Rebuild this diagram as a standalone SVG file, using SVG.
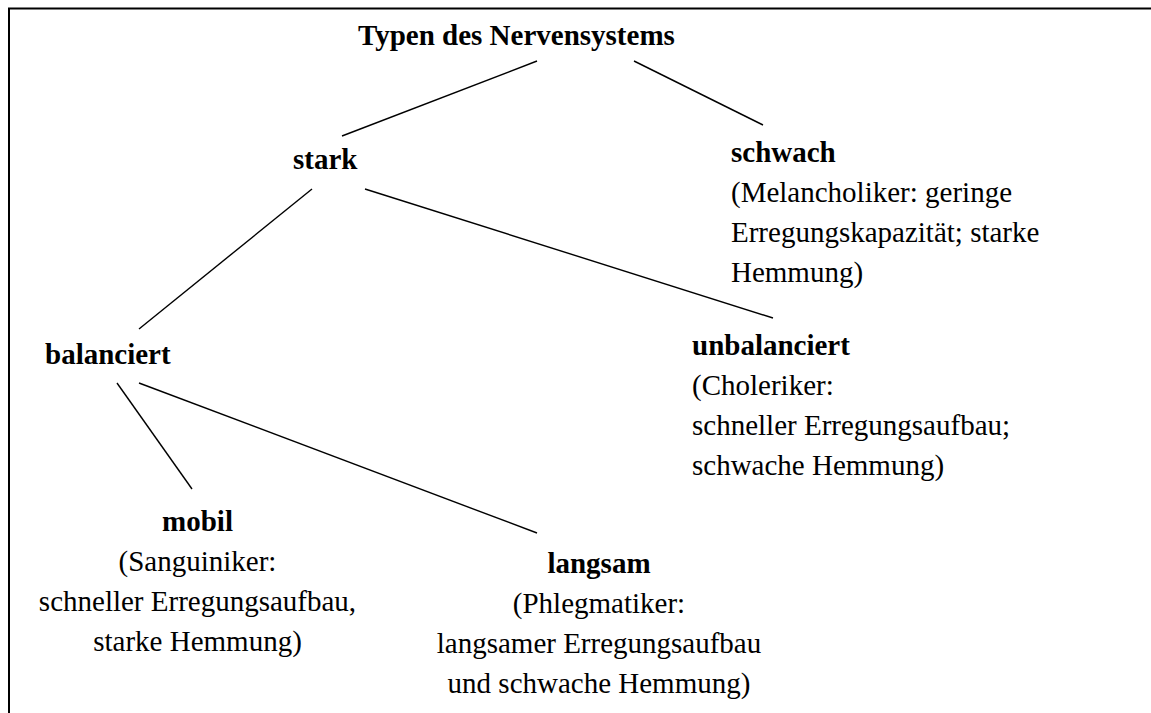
<svg xmlns="http://www.w3.org/2000/svg" width="1151" height="713" viewBox="0 0 1151 713">
  <style>
    text { font-family: "Liberation Serif", "Times New Roman", serif; font-size: 29px; fill: #000; }
    .b { font-weight: bold; }
    .c { text-anchor: middle; }
    .edge { stroke: #000; stroke-width: 1.4; fill: none; }
    .frame { stroke: #000; stroke-width: 2; fill: none; }
  </style>
  <rect width="1151" height="713" fill="#fff"/>

  <!-- open frame: top and left rules only -->
  <path class="frame" d="M9 713 V8.5 H1151"/>

  <g id="connectors">
    <line class="edge" x1="537" y1="61" x2="342" y2="136"/>
    <line class="edge" x1="634" y1="61" x2="763" y2="125"/>
    <line class="edge" x1="312" y1="189" x2="139" y2="329"/>
    <line class="edge" x1="365" y1="189" x2="773" y2="318"/>
    <line class="edge" x1="117" y1="383" x2="192" y2="489"/>
    <line class="edge" x1="139" y1="383" x2="537" y2="533"/>
  </g>

  <g id="root">
    <text class="b" x="358" y="45">Typen des Nervensystems</text>
  </g>

  <g id="stark">
    <text class="b" x="293" y="169">stark</text>
  </g>

  <g id="schwach">
    <text class="b" x="731" y="162">schwach</text>
    <text x="731" y="202">(Melancholiker: geringe</text>
    <text x="731" y="242">Erregungskapazität; starke</text>
    <text x="731" y="282">Hemmung)</text>
  </g>

  <g id="balanciert">
    <text class="b" x="45" y="364">balanciert</text>
  </g>

  <g id="unbalanciert">
    <text class="b" x="692" y="355">unbalanciert</text>
    <text x="692" y="395">(Choleriker:</text>
    <text x="692" y="435">schneller Erregungsaufbau;</text>
    <text x="692" y="475">schwache Hemmung)</text>
  </g>

  <g id="mobil">
    <text class="b c" x="197.5" y="531">mobil</text>
    <text class="c" x="197.5" y="571">(Sanguiniker:</text>
    <text class="c" x="197.5" y="611">schneller Erregungsaufbau,</text>
    <text class="c" x="197.5" y="651">starke Hemmung)</text>
  </g>

  <g id="langsam">
    <text class="b c" x="599" y="573">langsam</text>
    <text class="c" x="599" y="613">(Phlegmatiker:</text>
    <text class="c" x="599" y="653">langsamer Erregungsaufbau</text>
    <text class="c" x="599" y="693">und schwache Hemmung)</text>
  </g>
</svg>
